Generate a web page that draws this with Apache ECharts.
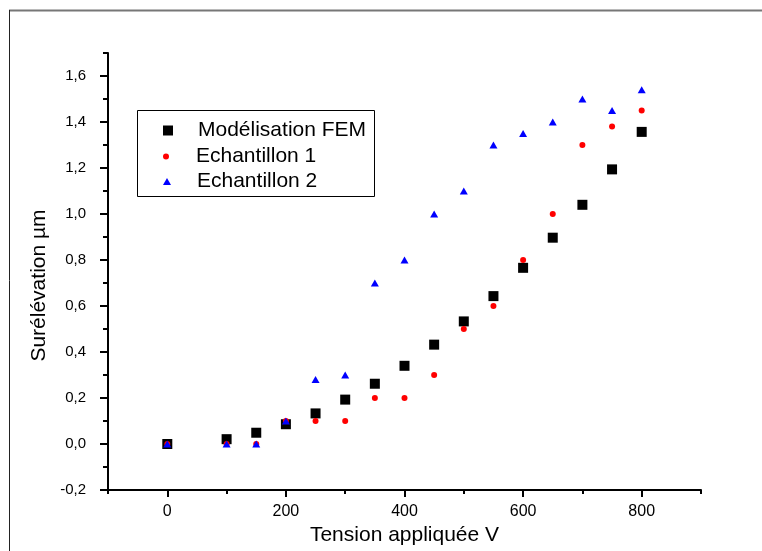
<!DOCTYPE html>
<html>
<head>
<meta charset="utf-8">
<script src="https://cdn.jsdelivr.net/npm/echarts@6/dist/echarts.min.js"></script>
<style>html,body{margin:0;padding:0;background:#fff}#c{width:762px;height:551px}</style>
</head>
<body>
<div id="c"></div>
<script>
var voltages = [0, 100, 150, 200, 250, 300, 350, 400, 450, 500, 550, 600, 650, 700, 750, 800];
var femValues = [0, 0.021, 0.049, 0.086, 0.133, 0.193, 0.262, 0.340, 0.432, 0.533, 0.643, 0.766, 0.897, 1.040, 1.194, 1.357];
var ech1Values = [0, 0, 0, 0.1, 0.1, 0.1, 0.2, 0.2, 0.3, 0.5, 0.6, 0.8, 1.0, 1.3, 1.38, 1.45];
var ech2Values = [0, 0, 0, 0.1, 0.28, 0.30, 0.70, 0.80, 1.00, 1.10, 1.30, 1.35, 1.40, 1.50, 1.45, 1.54];
var seriesNames = ['Modélisation FEM', 'Echantillon 1', 'Echantillon 2'];
var xMajorTicks = [0, 200, 400, 600, 800];
var xMinorTicks = [-100, 100, 300, 500, 700, 900];
var yMajorTicks = [-0.2, 0, 0.2, 0.4, 0.6, 0.8, 1.0, 1.2, 1.4, 1.6];
var yMinorTicks = [-0.1, 0.1, 0.3, 0.5, 0.7, 0.9, 1.1, 1.3, 1.5, 1.7];

function pairs(xs, ys) { return xs.map(function (x, i) { return [x, ys[i]]; }); }

var FONT = '"Liberation Sans", Arial, sans-serif';
var chart = echarts.init(document.getElementById('c'), null, {renderer: 'canvas'});

var ICON_SQUARE = 'path://M0,0L10,0L10,10L0,10Z';
var ICON_CIRCLE = 'path://M0,5A5,5,0,1,1,10,5A5,5,0,1,1,0,5Z';
var ICON_TRIANGLE = 'path://M4,0L8,7L0,7Z';

var legendCommon = {
  orient: 'vertical', left: 163, padding: 0, itemWidth: 50, symbolKeepAspect: true,
  textStyle: {fontFamily: FONT, fontSize: 21, color: '#000'},
  selectedMode: false
};

function tickAxis(kind, min, max, interval, values, len) {
  return {
    type: 'value', min: min, max: max, interval: interval,
    position: kind === 'x' ? 'bottom' : 'left', offset: 0,
    axisLine: {show: false, onZero: false},
    axisTick: {show: true, customValues: values, length: len, lineStyle: {color: '#000', width: 2}},
    axisLabel: {show: false},
    splitLine: {show: false}
  };
}

chart.setOption({
  animation: false,
  backgroundColor: '#fff',
  grid: {left: 108, right: 61, top: 53, bottom: 61},
  xAxis: [{
    type: 'value', min: -100, max: 900, interval: 100,
    name: 'Tension appliquée V', nameLocation: 'middle', nameGap: 33,
    nameTextStyle: {fontFamily: FONT, fontSize: 21, color: '#000'},
    axisLine: {show: true, onZero: false, lineStyle: {color: '#000', width: 2}},
    axisTick: {show: false},
    axisLabel: {customValues: xMajorTicks, margin: 14, fontFamily: FONT, fontSize: 16, color: '#000'},
    splitLine: {show: false}
  },
    tickAxis('x', -100, 900, 100, xMajorTicks, 7),
    tickAxis('x', -100, 900, 100, xMinorTicks, 4)
  ],
  yAxis: [{
    type: 'value', min: -0.2, max: 1.7, interval: 0.1,
    name: 'Surélévation µm', nameLocation: 'middle', nameGap: 52,
    nameTextStyle: {fontFamily: FONT, fontSize: 21, color: '#000', padding: [0, 28, 0, 0]},
    axisLine: {show: true, onZero: false, lineStyle: {color: '#000', width: 2}},
    axisTick: {show: false},
    axisLabel: {customValues: yMajorTicks, margin: 22, fontFamily: FONT, fontSize: 15, color: '#000',
      formatter: function (v) { return v.toFixed(1).replace('.', ','); }},
    splitLine: {show: false}
  },
    tickAxis('y', -0.2, 1.7, 0.1, yMajorTicks, 8),
    tickAxis('y', -0.2, 1.7, 0.1, yMinorTicks, 5)
  ],
  legend: [
    Object.assign({}, legendCommon, {top: 120, itemHeight: 10, data: [{name: seriesNames[0], icon: ICON_SQUARE}]}),
    Object.assign({}, legendCommon, {top: 146, itemHeight: 6, data: [{name: seriesNames[1], icon: ICON_CIRCLE}]}),
    Object.assign({}, legendCommon, {top: 171, itemHeight: 7, data: [{name: seriesNames[2], icon: ICON_TRIANGLE}]})
  ],
  graphic: [
    {type: 'rect', shape: {x: 137.5, y: 110.5, width: 237, height: 86}, style: {fill: 'none', stroke: '#000', lineWidth: 1}, z: 100},
    {type: 'line', shape: {x1: 9, y1: 10.5, x2: 762, y2: 10.5}, style: {stroke: '#777', lineWidth: 2}, z: 100},
    {type: 'line', shape: {x1: 9.5, y1: 10, x2: 9.5, y2: 551}, style: {stroke: '#222', lineWidth: 1}, z: 100}
  ],
  series: [
    {name: seriesNames[0], type: 'scatter', symbol: 'rect', symbolSize: 10, itemStyle: {color: '#000', opacity: 1}, data: pairs(voltages, femValues), z: 2},
    {name: seriesNames[1], type: 'scatter', symbol: 'circle', symbolSize: 6, itemStyle: {color: '#ff0000', opacity: 1}, data: pairs(voltages, ech1Values), z: 3},
    {name: seriesNames[2], type: 'scatter', symbol: 'triangle', symbolSize: [8, 7], itemStyle: {color: '#0000ff', opacity: 1}, data: pairs(voltages, ech2Values), z: 4}
  ]
});
</script>
</body>
</html>
